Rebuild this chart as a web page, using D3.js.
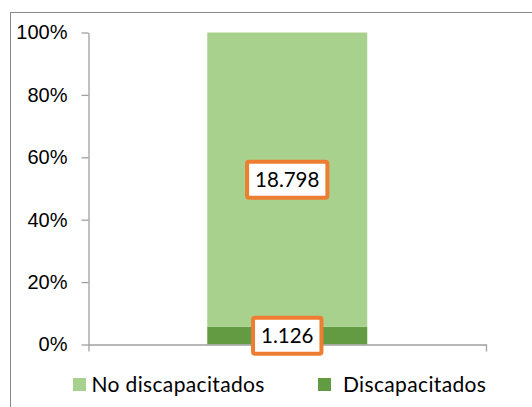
<!DOCTYPE html>
<html>
<head>
<meta charset="utf-8">
<script src="https://cdn.jsdelivr.net/npm/d3@7"></script>
<style>
  body { margin: 0; background: #fff; }
  svg { display: block; font-family: Lato, "Open Sans", sans-serif; }
</style>
</head>
<body>
<svg id="chart"></svg>
<script>
var categories = ['Total'];
var seriesNames = ['Discapacitados', 'No discapacitados'];
var discapacitados = [1126];
var noDiscapacitados = [18798];
var yTicks = [0, 0.2, 0.4, 0.6, 0.8, 1];
var legendOrder = ['No discapacitados', 'Discapacitados'];

var width = 532;
var height = 407;
var margin = {left: 88.5, right: 46, top: 32.5, bottom: 62.5};

var colors = {
  'Discapacitados': '#629B42',
  'No discapacitados': '#A9D18E'
};

var es = d3.formatLocale({decimal: ',', thousands: '.', grouping: [3], currency: ['', '']});
var fmt = es.format(',d');

var rows = categories.map(function(c, i) {
  return {cat: c, 'Discapacitados': discapacitados[i], 'No discapacitados': noDiscapacitados[i]};
});

var stacked = d3.stack()
  .keys(seriesNames)
  .offset(d3.stackOffsetExpand)(rows);

var svg = d3.select('#chart')
  .attr('width', width)
  .attr('height', height);

// outer chart border
svg.append('rect')
  .attr('x', 10.5).attr('y', 12.5)
  .attr('width', 600).attr('height', 500)
  .attr('fill', 'none')
  .attr('stroke', '#898989')
  .attr('stroke-width', 1);

var x = d3.scaleBand()
  .domain(categories)
  .range([margin.left, width - margin.right])
  .padding(0.426);

var y = d3.scaleLinear()
  .domain([0, 1])
  .range([height - margin.bottom, margin.top]);

// bars
svg.selectAll('g.layer')
  .data(stacked)
  .enter()
  .append('g')
  .attr('class', 'layer')
  .attr('fill', d => colors[d.key])
  .selectAll('rect')
  .data(d => d)
  .enter()
  .append('rect')
  .attr('x', d => x(d.data.cat))
  .attr('width', x.bandwidth())
  .attr('y', d => y(d[1]))
  .attr('height', d => y(d[0]) - y(d[1]));

// axes
var yAxis = svg.append('g')
  .attr('transform', `translate(${margin.left},0)`)
  .call(d3.axisLeft(y).tickValues(yTicks).tickFormat(d3.format('.0%')).tickSizeInner(7).tickSizeOuter(0).tickPadding(14));
yAxis.selectAll('path, line').attr('stroke', '#A0A0A0').attr('stroke-width', 1.3);
yAxis.selectAll('text')
  .style('font-size', '20px')
  .attr('fill', '#000');

var xAxis = svg.append('g')
  .attr('transform', `translate(0,${height - margin.bottom})`)
  .call(d3.axisBottom(x).tickSizeInner(0).tickSizeOuter(7).tickFormat(''));
xAxis.selectAll('path').attr('stroke', '#A0A0A0').attr('stroke-width', 1.3);
xAxis.selectAll('.tick').remove();

// data labels
var labels = svg.append('g');
stacked.forEach(function(layer) {
  layer.forEach(function(d) {
    var cx = x(d.data.cat) + x.bandwidth() / 2;
    var cy = (y(d[0]) + y(d[1])) / 2;
    var txt = fmt(d.data[layer.key]);
    var g = labels.append('g').attr('transform', `translate(${cx},${cy})`);
    var t = g.append('text')
      .attr('text-anchor', 'middle')
      .attr('dy', '0.36em')
      .style('font-size', '20.5px')
      .attr('fill', '#000')
      .text(txt);
    var w = t.node().getComputedTextLength() + 16;
    g.insert('rect', 'text')
      .attr('x', -w / 2).attr('y', -18)
      .attr('width', w).attr('height', 36)
      .attr('rx', 2)
      .attr('fill', '#fff')
      .attr('stroke', '#ED7D31')
      .attr('stroke-width', 4);
  });
});

// legend
var legendX = [73, 318];
var legend = svg.append('g');
legendOrder.forEach(function(name, i) {
  legend.append('rect')
    .attr('x', legendX[i]).attr('y', 378)
    .attr('width', 13).attr('height', 13)
    .attr('fill', colors[name]);
  legend.append('text')
    .attr('x', legendX[i] + (i === 0 ? 18.5 : 25))
    .attr('y', 392)
    .style('font-size', '21px')
    .style('letter-spacing', '0.35px')
    .attr('fill', '#000')
    .text(name);
});
</script>
</body>
</html>
